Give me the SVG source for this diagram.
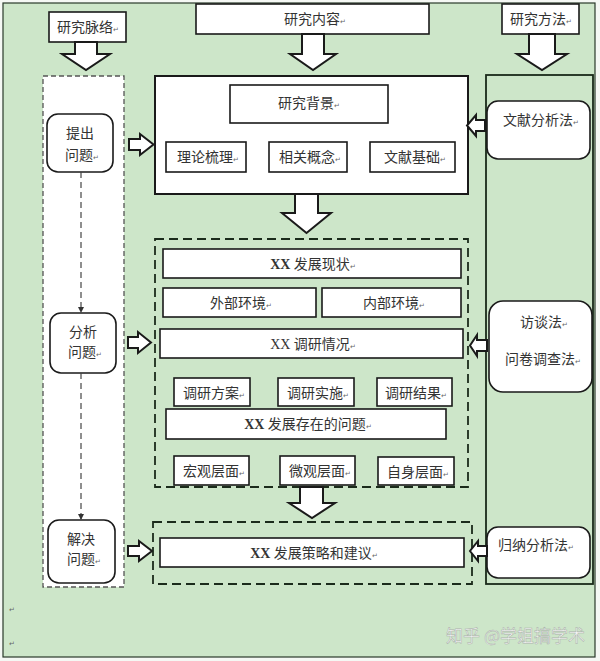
<svg xmlns="http://www.w3.org/2000/svg" width="600" height="661" viewBox="0 0 600 661">
<defs>
<style>
.t{font-family:"Liberation Serif","Noto Sans CJK SC",serif;font-size:14px;fill:#333;text-anchor:middle}
.b{font-weight:bold}
.pm{font-size:7px;fill:#666}
.box{fill:#fff;stroke:#1a1a1a;stroke-width:1.6}
.rbox{fill:#fff;stroke:#1a1a1a;stroke-width:1.6}
.arrow{fill:#fff;stroke:#1a1a1a;stroke-width:2;stroke-linejoin:miter}
.dash{fill:none;stroke:#1b2b1b;stroke-width:1.8;stroke-dasharray:9 5}
.wm{font-family:"Noto Sans CJK SC","Noto Sans",sans-serif;font-size:17px;fill:#f4f4f4;stroke:#a8b0a8;stroke-width:0.5;text-anchor:end}
</style>
<marker id="ah" viewBox="0 0 6 6" refX="5" refY="3" markerWidth="5" markerHeight="5" orient="auto">
<path d="M0,0 L6,3 L0,6 Z" fill="#333"/>
</marker>
</defs>
<rect width="600" height="661" fill="#f5f8f4"/>
<rect x="3" y="3" width="592" height="654" fill="#cde6c9" stroke="#2a3a2a" stroke-width="1.2"/>

<!-- headers -->
<g id="h-mailuo"><rect class="box" x="49" y="12" width="77" height="30"/><text class="t" x="88" y="32">研究脉络<tspan class="pm">↵</tspan></text></g>
<g id="h-neirong"><rect class="box" x="196" y="4" width="233" height="30"/><text class="t" x="315" y="24">研究内容<tspan class="pm">↵</tspan></text></g>
<g id="h-fangfa"><rect class="box" x="502" y="4" width="77" height="30"/><text class="t" x="541" y="24">研究方法<tspan class="pm">↵</tspan></text></g>

<!-- left column -->
<g id="col-left"><rect x="43" y="76" width="81" height="511" fill="#fff" stroke="#555" stroke-width="1.3" stroke-dasharray="5 3"/></g>
<g id="n-tichu"><rect class="rbox" x="47" y="114" width="66" height="58" rx="11"/><text class="t" x="80" y="138">提出</text><text class="t" x="82" y="160">问题<tspan class="pm">↵</tspan></text></g>
<g id="n-fenxi"><rect class="rbox" x="50" y="313" width="66" height="60" rx="11"/><text class="t" x="83" y="337">分析</text><text class="t" x="85" y="357">问题<tspan class="pm">↵</tspan></text></g>
<g id="n-jiejue"><rect class="rbox" x="48" y="520" width="67" height="63" rx="11"/><text class="t" x="81" y="544">解决</text><text class="t" x="84" y="564">问题<tspan class="pm">↵</tspan></text></g>

<!-- top content box -->
<g id="g-background"><rect x="155" y="76" width="313" height="118" fill="#fff" stroke="#1a1a1a" stroke-width="2"/></g>
<g id="n-beijing"><rect class="box" x="230" y="85" width="158" height="38"/><text class="t" x="309" y="108">研究背景<tspan class="pm">↵</tspan></text></g>
<g id="n-lilun"><rect class="box" x="166" y="142" width="80" height="30"/><text class="t" x="208" y="162">理论梳理<tspan class="pm">↵</tspan></text></g>
<g id="n-gainian"><rect class="box" x="269" y="142" width="78" height="30"/><text class="t" x="310" y="162">相关概念<tspan class="pm">↵</tspan></text></g>
<g id="n-wenxian"><rect class="box" x="370" y="142" width="85" height="30"/><text class="t" x="415" y="162">文献基础<tspan class="pm">↵</tspan></text></g>

<!-- middle dashed box -->
<g id="g-middle"><rect class="dash" x="155" y="239" width="313" height="248"/></g>
<g id="n-xianzhuang"><rect class="box" x="163" y="249" width="298" height="29"/><text class="t" x="313" y="269"><tspan class="b">XX</tspan> 发展现状<tspan class="pm">↵</tspan></text></g>
<g id="n-waibu"><rect class="box" x="163" y="288" width="153" height="29"/><text class="t" x="241" y="308">外部环境<tspan class="pm">↵</tspan></text></g>
<g id="n-neibu"><rect class="box" x="322" y="288" width="139" height="29"/><text class="t" x="394" y="308">内部环境<tspan class="pm">↵</tspan></text></g>
<g id="n-diaoyan"><rect class="box" x="160" y="329" width="303" height="29"/><text class="t" x="313" y="349">XX 调研情况<tspan class="pm">↵</tspan></text></g>
<g id="n-fangan"><rect class="box" x="174" y="378" width="76" height="28"/><text class="t" x="214" y="398">调研方案<tspan class="pm">↵</tspan></text></g>
<g id="n-shishi"><rect class="box" x="278" y="378" width="76" height="28"/><text class="t" x="318" y="398">调研实施<tspan class="pm">↵</tspan></text></g>
<g id="n-jieguo"><rect class="box" x="377" y="378" width="75" height="28"/><text class="t" x="416" y="398">调研结果<tspan class="pm">↵</tspan></text></g>
<g id="n-wenti"><rect class="box" x="166" y="409" width="280" height="30"/><text class="t" x="308" y="429"><tspan class="b">XX</tspan> 发展存在的问题<tspan class="pm">↵</tspan></text></g>
<g id="n-hongguan"><rect class="box" x="174" y="456" width="75" height="29"/><text class="t" x="214" y="476">宏观层面<tspan class="pm">↵</tspan></text></g>
<g id="n-weiguan"><rect class="box" x="280" y="456" width="75" height="29"/><text class="t" x="320" y="476">微观层面<tspan class="pm">↵</tspan></text></g>
<g id="n-zishen"><rect class="box" x="378" y="457" width="76" height="28"/><text class="t" x="418" y="477">自身层面<tspan class="pm">↵</tspan></text></g>

<!-- bottom dashed box -->
<g id="g-bottom"><rect class="dash" x="153" y="522" width="319" height="62"/></g>
<g id="n-celue"><rect class="box" x="160" y="538" width="304" height="29"/><text class="t" x="314" y="558"><tspan class="b">XX</tspan> 发展策略和建议<tspan class="pm">↵</tspan></text></g>

<!-- right column -->
<g id="col-right"><rect x="486" y="75" width="107" height="509" fill="#cde6c9" stroke="#1a2a1a" stroke-width="1.8"/></g>
<g id="n-wenxianfa"><rect class="rbox" x="487" y="101" width="103" height="58" rx="11"/><text class="t" x="541" y="125">文献分析法<tspan class="pm">↵</tspan></text></g>
<g id="n-fangtan"><rect class="rbox" x="489" y="301" width="103" height="91" rx="14"/><text class="t" x="544" y="327">访谈法<tspan class="pm">↵</tspan></text><text class="t" x="543" y="364">问卷调查法<tspan class="pm">↵</tspan></text></g>
<g id="n-guina"><rect class="rbox" x="487" y="527" width="103" height="51" rx="11"/><text class="t" x="536" y="550">归纳分析法<tspan class="pm">↵</tspan></text></g>

<!-- connectors -->
<g id="connectors">
<path class="arrow" d="M75 42 L97 42 L97 54 L110 54 L86 70 L62 54 L75 54 Z"/>
<path class="arrow" d="M302 34 L324 34 L324 54 L336 54 L313 70 L290 54 L302 54 Z"/>
<path class="arrow" d="M529 34 L555 34 L555 54 L567 54 L542 70 L517 54 L529 54 Z"/>
<path class="arrow" d="M295 194 L318 194 L318 213 L331 213 L306.5 233 L282 213 L295 213 Z"/>
<path class="arrow" d="M300 487 L323 487 L323 503 L335 503 L312 518 L289 503 L300 503 Z"/>
<path class="arrow" d="M129 139 L140 139 L140 134 L153.5 144.5 L140 155 L140 150 L129 150 Z"/>
<path class="arrow" d="M128 337 L138 337 L138 332 L151 342.5 L138 353 L138 348 L128 348 Z"/>
<path class="arrow" d="M128 546 L139 546 L139 541 L152 551 L139 561 L139 556 L128 556 Z"/>
<path class="arrow" d="M485 120 L476 120 L476 115 L467 125.5 L476 136 L476 131 L485 131 Z"/>
<path class="arrow" d="M487 340 L477 340 L477 335 L470 345.5 L477 356 L477 351 L487 351 Z"/>
<path class="arrow" d="M487 546 L478 546 L478 541 L470 551 L478 561 L478 556 L487 556 Z"/>
<line x1="81" y1="172" x2="81" y2="312" stroke="#444" stroke-width="1.2" stroke-dasharray="6 4" marker-end="url(#ah)"/>
<line x1="81" y1="373" x2="81" y2="519" stroke="#444" stroke-width="1.2" stroke-dasharray="6 4" marker-end="url(#ah)"/>
</g>

<text class="t pm" x="12" y="612">↵</text>
<text class="t pm" x="12" y="646">↵</text>
<text class="wm" x="585" y="642">知乎 @学姐搞学术</text>
</svg>
